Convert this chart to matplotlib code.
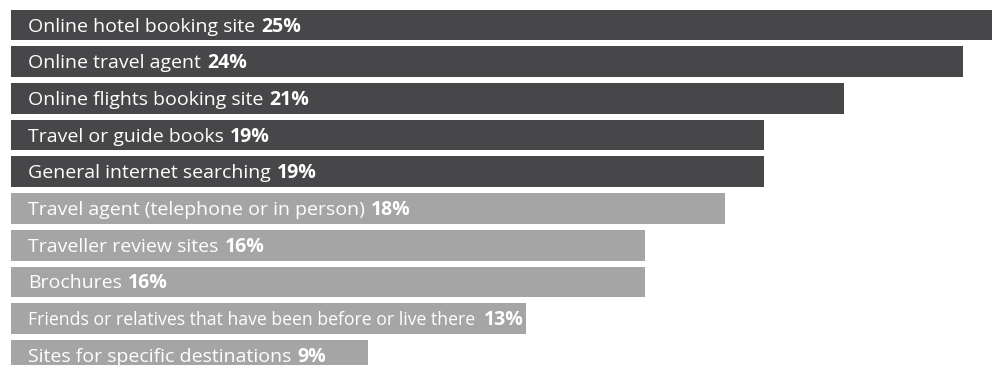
import matplotlib
matplotlib.use("Agg")
import matplotlib.pyplot as plt
from matplotlib import font_manager

# ── data ───────────────────────────────────────────────────────────────
labels = [
    "Online hotel booking site",
    "Online travel agent",
    "Online flights booking site",
    "Travel or guide books",
    "General internet searching",
    "Travel agent (telephone or in person)",
    "Traveller review sites",
    "Brochures",
    "Friends or relatives that have been before or live there",
    "Sites for specific destinations",
]
values = [25, 24, 21, 19, 19, 18, 16, 16, 13, 9]
groups = ["online", "online", "online", "online", "online",
          "offline", "offline", "offline", "offline", "offline"]

COLORS = {"online": "#474749", "offline": "#a5a5a5"}

W, H, DPI = 992, 365, 100
PX_PER_PCT = 39.65      # horizontal scale
LEFT_PX = 11
PITCH_PX = 36.7
FIRST_CENTER_PX = 25
BAR_H = 30.7 / PITCH_PX

fig = plt.figure(figsize=(W / DPI, H / DPI), dpi=DPI)
fig.patch.set_facecolor("white")
ax_w = PX_PER_PCT * 26 / W
ax = fig.add_axes([LEFT_PX / W, 0, ax_w, 1])
ax.set_xlim(0, 26)
y_top = -FIRST_CENTER_PX / PITCH_PX
y_bot = (H - FIRST_CENTER_PX) / PITCH_PX
ax.set_ylim(y_bot, y_top)
ax.axis("off")

ypos = list(range(len(labels)))
ax.barh(ypos, values, height=BAR_H, left=0,
        color=[COLORS[g] for g in groups], linewidth=0)

FONT = ["Open Sans", "DejaVu Sans"]
installed = {f.name for f in font_manager.fontManager.ttflist}
NARROW = [f for f in ("Liberation Sans Narrow", "DejaVu Sans Condensed") if f in installed]
NARROW_FONT = NARROW + FONT
FS = 14
pad = 17 / PX_PER_PCT
base_off = 6.5 / PITCH_PX

fig.canvas.draw()
renderer = fig.canvas.get_renderer()
for i, (lab, v) in enumerate(zip(labels, values)):
    fam = FONT
    fs = FS
    gap_px = 6
    if i == 8:
        # long label is set condensed in the original
        fam = NARROW_FONT
        gap_px = 9
    t = ax.text(pad, i + base_off, lab, color="white", fontsize=fs,
                family=fam, va="baseline", ha="left")
    bb = t.get_window_extent(renderer)
    if i == 8 and bb.width > 448:
        t.set_fontsize(fs * 448 / bb.width)
        bb = t.get_window_extent(renderer)
    x_disp = bb.x1 + gap_px
    x_data = ax.transData.inverted().transform((x_disp, 0))[0]
    ax.text(x_data, i + base_off, f"{v}%", color="white", fontsize=FS,
            family=FONT, fontweight="bold", va="baseline", ha="left")

fig.savefig("out.png", dpi=DPI, facecolor="white")
